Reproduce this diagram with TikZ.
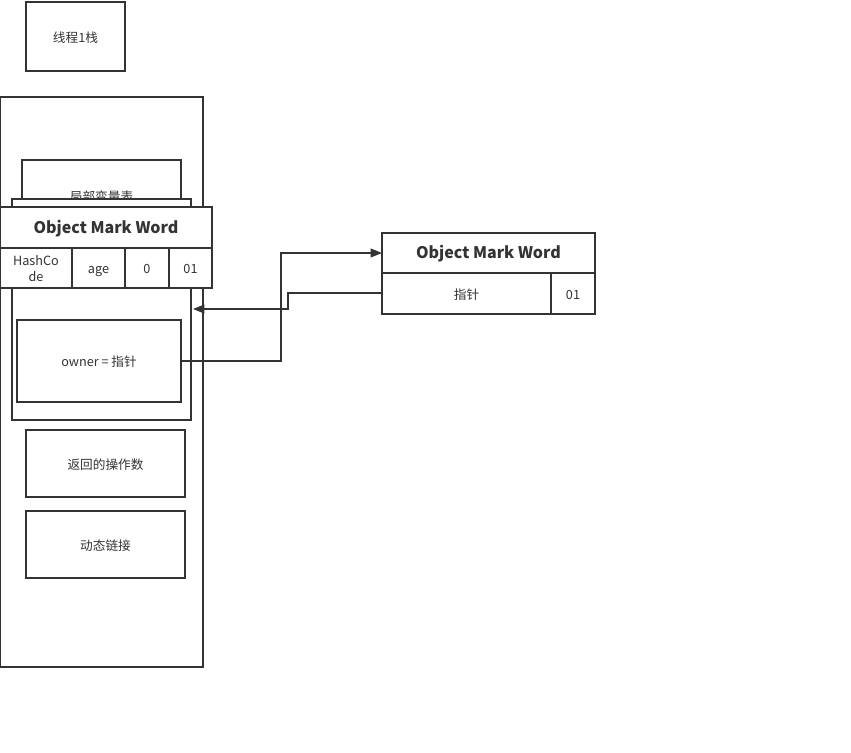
\documentclass[tikz,border=0pt]{standalone}
\usepackage{fontspec}
\setmainfont{Noto Sans CJK SC}
\usetikzlibrary{arrows.meta}
\definecolor{ln}{HTML}{333333}
\definecolor{tx}{HTML}{333333}
\tikzset{
  bx/.style={draw=ln, line width=1.5pt, fill=white},
  lbl/.style={text=tx, font=\fontsize{9.5}{12}\selectfont, inner sep=0pt, align=center},
  hdr/.style={text=tx, font=\fontsize{12}{12}\selectfont\bfseries, inner sep=0pt},
  conn/.style={draw=ln, line width=1.3pt},
  tip/.style={-{Triangle[length=8.5pt,width=6.5pt]}}
}
\begin{document}
\begin{tikzpicture}[x=0.75pt,y=-0.75pt]
\useasboundingbox (0,0) rectangle (851,753);
% thread stack label
\draw[bx] (26,2) rectangle (125,71);
\node[lbl] (t1) at (75.5,38) {线程1栈};
% stack frame
\draw[bx] (0,97) rectangle (203,667);
\coordinate (frame) at (101.5,97);
% local variable table
\draw[bx] (22,160) rectangle (181,230);
\node[lbl] (lvt) at (101.5,197) {局部变量表};
% lock record
\draw[bx] (12,199) rectangle (191,420);
\coordinate (lockR) at (191,309);
% left mark word
\draw[bx] (0,207) rectangle (212,248);
\node[hdr] (lmw) at (106,229) {Object Mark Word};
\draw[bx] (0,248) rectangle (72,288);
\draw[bx] (72,248) rectangle (125,288);
\draw[bx] (125,248) rectangle (169,288);
\draw[bx] (169,248) rectangle (212,288);
\node[lbl] (hc) at (36,268.5) {HashCo\\de};
\node[lbl, anchor=base] (age) at (98.5,273) {age};
\node[lbl] (z) at (147,269) {0};
\node[lbl] (o1) at (190.5,269) {01};
% owner
\draw[bx] (17,320) rectangle (181,402);
\node[lbl] (own) at (99,362) {owner = 指针};
\coordinate (ownR) at (181,361);
% return operand
\draw[bx] (26,430) rectangle (185,497);
\node[lbl] (ret) at (105.5,465) {返回的操作数};
% dynamic link
\draw[bx] (26,511) rectangle (185,578);
\node[lbl] (dyn) at (105.5,546) {动态链接};
% right mark word
\draw[bx] (382,233) rectangle (595,273);
\node[hdr] (rmw) at (488.5,254) {Object Mark Word};
\draw[bx] (382,273) rectangle (551,314);
\draw[bx] (551,273) rectangle (595,314);
\node[lbl] (ptr) at (466.5,295) {指针};
\node[lbl] (r01) at (573,295) {01};
\coordinate (rmwL) at (382,253);
\coordinate (ptrL) at (382,293);
% connectors
\draw[conn,tip] (ownR) -- (281,361) -- (281,253) -- (rmwL);
\draw[conn,tip] (ptrL) -- (288,293) -- (288,309) -- (193,309);
\end{tikzpicture}
\end{document}
